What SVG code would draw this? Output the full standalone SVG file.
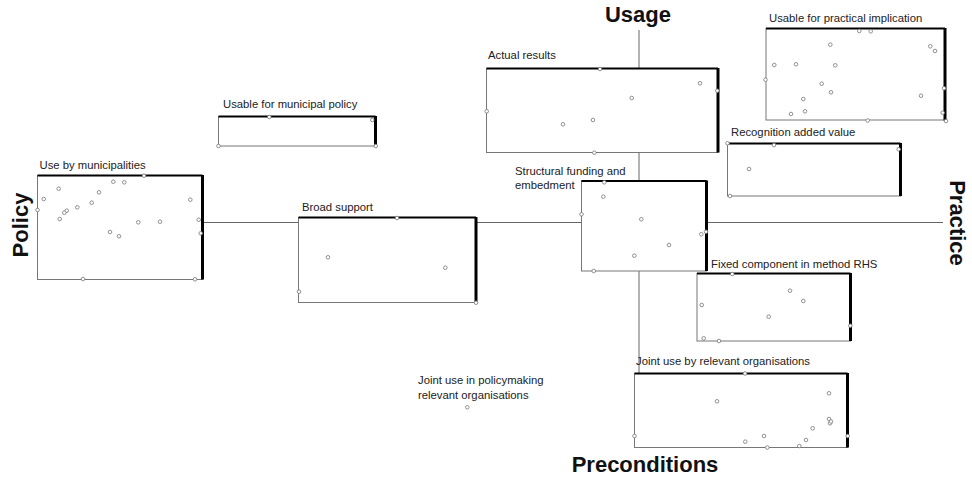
<svg xmlns="http://www.w3.org/2000/svg" width="972" height="479" viewBox="0 0 972 479">
<style>
.bg{fill:#fff}
.box{fill:#fff;stroke:#777;stroke-width:1}
.edge{fill:none;stroke:#000;stroke-width:2}
.redge{fill:none;stroke:#000;stroke-width:3}
.axis{stroke:#666;stroke-width:1;fill:none}
.lbl{font-family:"Liberation Sans",Arial,sans-serif;font-size:11.3px;fill:#222}
.ax{font-family:"Liberation Sans",Arial,sans-serif;font-size:22px;font-weight:bold;fill:#111}
.pt{fill:#fff;stroke:#777;stroke-width:0.8}
</style>
<defs>
<circle id="p" r="1.8" class="pt"/>
</defs>
<rect class="bg" width="972" height="479"/>

<g id="connectors">
<line class="axis" x1="639" y1="30" x2="639" y2="373"/>
<line class="axis" x1="203" y1="222.5" x2="943" y2="222.5"/>
</g>

<g id="axis-labels">
<text class="ax" x="638" y="22" text-anchor="middle" font-size="21">Usage</text>
<text class="ax" x="645" y="472" text-anchor="middle">Preconditions</text>
<text class="ax" transform="translate(28,225) rotate(-90)" text-anchor="middle">Policy</text>
<text class="ax" transform="translate(950,223) rotate(90)" text-anchor="middle">Practice</text>
</g>

<g id="use-by-municipalities">
<rect class="box" x="37.5" y="175.5" width="165" height="104"/>
<path class="edge" d="M37.5,175.5H202.5"/>
<path class="redge" d="M202.5,175V279.5"/>
<text class="lbl" x="39.5" y="169">Use by municipalities</text>
<g>
<use href="#p" x="144" y="175.7"/><use href="#p" x="113.3" y="181.7"/><use href="#p" x="124.3" y="182.3"/><use href="#p" x="58.7" y="188.7"/><use href="#p" x="99" y="192.3"/><use href="#p" x="43.7" y="199"/><use href="#p" x="190.3" y="199.7"/><use href="#p" x="91.7" y="202.7"/><use href="#p" x="77.3" y="207.3"/><use href="#p" x="66.7" y="210.7"/><use href="#p" x="64.3" y="212.7"/><use href="#p" x="59.7" y="219"/><use href="#p" x="37.5" y="210"/><use href="#p" x="198.7" y="219.7"/><use href="#p" x="138.3" y="222.3"/><use href="#p" x="160" y="221.7"/><use href="#p" x="110" y="232"/><use href="#p" x="119" y="236.3"/><use href="#p" x="200.7" y="233.3"/><use href="#p" x="83" y="279"/><use href="#p" x="195" y="279.3"/>
</g>
</g>

<g id="usable-for-municipal-policy">
<rect class="box" x="218.5" y="116.5" width="157" height="29.5"/>
<path class="edge" d="M218.5,116.5H375.5"/>
<path class="redge" d="M375.5,116V146"/>
<text class="lbl" x="223" y="108">Usable for municipal policy</text>
<use href="#p" x="269.3" y="117"/><use href="#p" x="372.3" y="120"/><use href="#p" x="218.5" y="146"/><use href="#p" x="375.7" y="146"/>
</g>

<g id="broad-support">
<rect class="box" x="298.5" y="217.5" width="177.5" height="85"/>
<path class="edge" d="M298.5,217.5H476"/>
<path class="redge" d="M476,217V302.5"/>
<text class="lbl" x="302" y="210.5">Broad support</text>
<use href="#p" x="397" y="218"/><use href="#p" x="328" y="257.3"/><use href="#p" x="445.3" y="267.7"/><use href="#p" x="299" y="291.7"/><use href="#p" x="476" y="302.7"/>
</g>

<g id="actual-results">
<rect class="box" x="486.5" y="68.5" width="231.5" height="84"/>
<path class="edge" d="M486.5,68.5H718"/>
<path class="redge" d="M718,68V152.5"/>
<text class="lbl" x="488" y="58.5">Actual results</text>
<use href="#p" x="600" y="69"/><use href="#p" x="700" y="83.3"/><use href="#p" x="717.3" y="90.7"/><use href="#p" x="631.7" y="98"/><use href="#p" x="486.7" y="111.3"/><use href="#p" x="563" y="124.3"/><use href="#p" x="593" y="120"/><use href="#p" x="594.3" y="152.7"/>
</g>

<g id="usable-for-practical-implication">
<rect class="box" x="766" y="28.5" width="179" height="91.5"/>
<path class="edge" d="M766,28.5H945"/>
<path class="redge" d="M945,28V120.5"/>
<text class="lbl" x="769" y="21.5">Usable for practical implication</text>
<use href="#p" x="859.3" y="31"/><use href="#p" x="870.7" y="31.3"/><use href="#p" x="830.3" y="44.7"/><use href="#p" x="930.3" y="46.3"/><use href="#p" x="935" y="51"/><use href="#p" x="774.3" y="65"/><use href="#p" x="796" y="64.3"/><use href="#p" x="835.3" y="65.3"/><use href="#p" x="765.5" y="79.7"/><use href="#p" x="821.7" y="83.7"/><use href="#p" x="831" y="92.3"/><use href="#p" x="921" y="95.7"/><use href="#p" x="944" y="88.3"/><use href="#p" x="803.3" y="99"/><use href="#p" x="805" y="111.3"/><use href="#p" x="791" y="114"/><use href="#p" x="942.7" y="112.7"/><use href="#p" x="867.7" y="120.5"/><use href="#p" x="946" y="121"/>
</g>

<g id="recognition-added-value">
<rect class="box" x="727.5" y="143.5" width="173" height="52.5"/>
<path class="edge" d="M727.5,143.5H900.5"/>
<path class="redge" d="M900.5,143V196"/>
<text class="lbl" x="731" y="135.5">Recognition added value</text>
<use href="#p" x="727.5" y="143.3"/><use href="#p" x="774" y="145"/><use href="#p" x="898.7" y="149.3"/><use href="#p" x="749" y="169"/><use href="#p" x="730" y="196"/>
</g>

<g id="structural-funding-and-embedment">
<rect class="box" x="581.5" y="181" width="125" height="90"/>
<path class="edge" d="M581.5,181H706.5"/>
<path class="redge" d="M706.5,180.5V271"/>
<text class="lbl" x="515" y="175">Structural funding and</text>
<text class="lbl" x="515" y="188.5">embedment</text>
<use href="#p" x="604.3" y="182.3"/><use href="#p" x="603.3" y="196.7"/><use href="#p" x="581.5" y="214.3"/><use href="#p" x="641.3" y="219.3"/><use href="#p" x="706" y="231.7"/><use href="#p" x="701.3" y="234.3"/><use href="#p" x="669" y="245"/><use href="#p" x="634.3" y="255.7"/><use href="#p" x="593.7" y="271"/>
</g>

<g id="fixed-component-in-method-rhs">
<rect class="box" x="697" y="273.5" width="153.5" height="67.5"/>
<path class="edge" d="M697,273.5H850.5"/>
<path class="redge" d="M850.5,273V341"/>
<text class="lbl" x="711" y="267.5">Fixed component in method RHS</text>
<use href="#p" x="732.3" y="274"/><use href="#p" x="790" y="290.7"/><use href="#p" x="803.3" y="301"/><use href="#p" x="701.7" y="305"/><use href="#p" x="768.7" y="316.7"/><use href="#p" x="850.3" y="325.7"/><use href="#p" x="703.7" y="338.3"/><use href="#p" x="719" y="341"/>
</g>

<g id="joint-use-by-relevant-organisations">
<rect class="box" x="634.5" y="373.5" width="213" height="74"/>
<path class="edge" d="M634.5,373.5H847.5"/>
<path class="redge" d="M847.5,373V447.5"/>
<text class="lbl" x="636" y="365">Joint use by relevant organisations</text>
<use href="#p" x="745" y="373.5"/><use href="#p" x="829" y="393.3"/><use href="#p" x="717" y="401.3"/><use href="#p" x="829" y="419"/><use href="#p" x="830" y="423.3"/><use href="#p" x="831" y="421.5"/><use href="#p" x="812.7" y="428.3"/><use href="#p" x="764" y="436"/><use href="#p" x="634.5" y="436"/><use href="#p" x="847.7" y="436"/><use href="#p" x="806" y="440"/><use href="#p" x="745.3" y="441.7"/><use href="#p" x="767.3" y="447.5"/><use href="#p" x="799.3" y="446"/>
</g>

<g id="joint-use-in-policymaking">
<text class="lbl" x="418" y="383.5">Joint use in policymaking</text>
<text class="lbl" x="418" y="398.5">relevant organisations</text>
<use href="#p" x="467.3" y="407.3"/>
</g>
</svg>
